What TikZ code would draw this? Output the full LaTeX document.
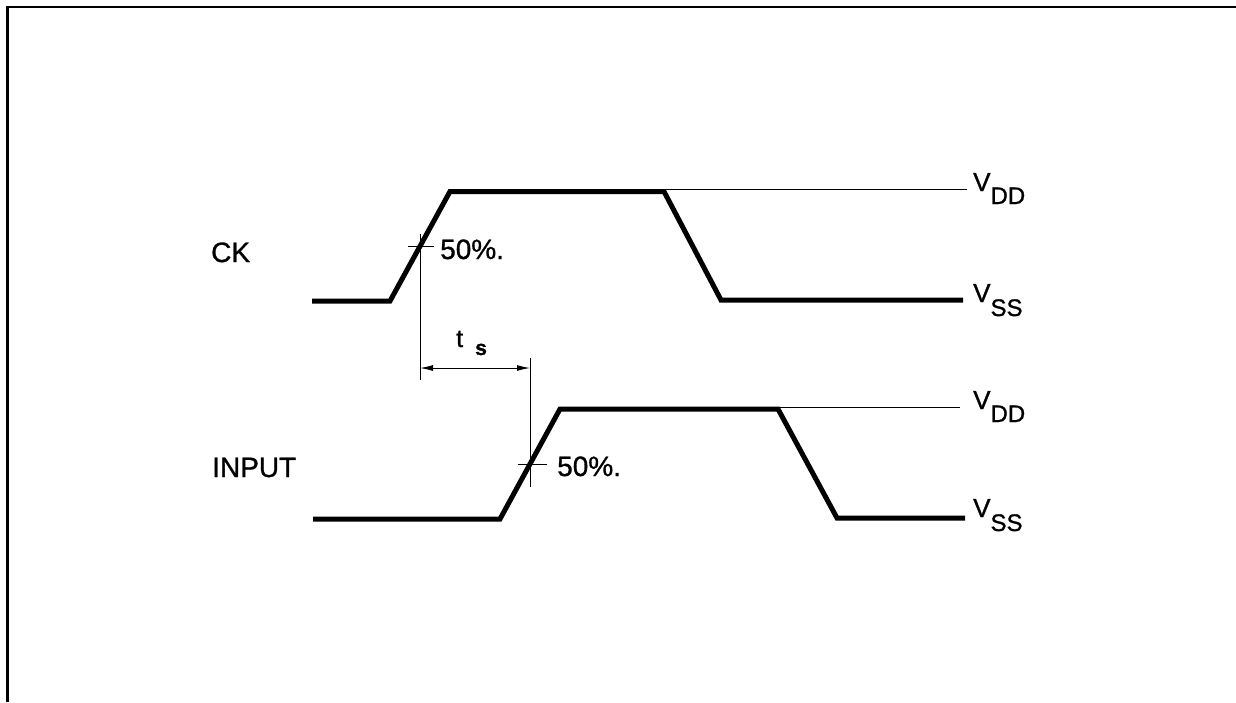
\documentclass[tikz,border=0pt]{standalone}
\usepackage{fontspec}
\setmainfont{Liberation Sans}[FakeBold=1]
\usetikzlibrary{arrows.meta,calc}
\begin{document}
\begin{tikzpicture}[x=1pt,y=-1pt,
  wave/.style={line width=5pt},
  thinline/.style={line width=1pt},
  lbl/.style={inner sep=0pt,anchor=base west,font=\fontsize{28}{30}\selectfont},
  lvl/.style={inner sep=0pt,anchor=base west,font=\fontsize{26}{28}\selectfont},
  dimline/.style={line width=1pt,{Latex[length=13pt,width=6pt]}-{Latex[length=13pt,width=6pt]}}
]
\useasboundingbox (0,0) rectangle (1236,702);
\fill[white] (0,0) rectangle (1236,702);
% frame
\coordinate (fbl) at (7.3,702);
\coordinate (ftl) at (7.3,6.7);
\coordinate (ftr) at (1236,6.7);
\draw[line width=2.4pt] (fbl) -- (ftl) -- (ftr);

% CK waveform
\coordinate (c0) at (312,301);
\coordinate (c1) at (390,301);
\coordinate (c2) at (450,191.5);
\coordinate (c3) at (664,191.5);
\coordinate (c4) at (721,300);
\coordinate (c5) at (963,300);
\draw[wave] (c0) -- (c1) -- (c2) -- (c3) -- (c4) -- (c5);
\coordinate (c3t) at (664,189.5);
\coordinate (cvdd) at (967,189.5);
\draw[thinline] (c3t) -- (cvdd);

% INPUT waveform
\coordinate (i0) at (313,519);
\coordinate (i1) at (500,519);
\coordinate (i2) at (560,409);
\coordinate (i3) at (778,409);
\coordinate (i4) at (837,518);
\coordinate (i5) at (965,518);
\draw[wave] (i0) -- (i1) -- (i2) -- (i3) -- (i4) -- (i5);
\coordinate (i3t) at (778,407.5);
\coordinate (ivdd) at (960,407.5);
\draw[thinline] (i3t) -- (ivdd);

% 50% points
\coordinate (m1) at ($(c1)!0.5!(c2)$);
\coordinate (m2) at ($(i1)!0.5!(i2)$);
\coordinate (m1a) at ($(m1)+(0,-12)$);
\coordinate (m1b) at ($(m1)+(0,134)$);
\coordinate (m1l) at ($(m1)+(-12,0)$);
\coordinate (m1r) at ($(m1)+(14,0)$);
\draw[thinline] (m1a) -- (m1b);
\draw[thinline] (m1l) -- (m1r);
\coordinate (m2a) at ($(m2)+(0,-106)$);
\coordinate (m2b) at ($(m2)+(0,23)$);
\coordinate (m2l) at ($(m2)+(-12,0)$);
\coordinate (m2r) at ($(m2)+(17,0)$);
\draw[thinline] (m2a) -- (m2b);
\draw[thinline] (m2l) -- (m2r);

% dimension arrow
\coordinate (d1) at (m1 |- 0,368);
\coordinate (d2) at (m2 |- 0,368);
\draw[dimline] (d1) -- (d2);
\node[anchor=base west,inner sep=0pt,font=\fontsize{25}{25}\selectfont] (tt) at (456,347) {t};
\node[anchor=base west,inner sep=0pt,font=\bfseries\fontsize{21}{21}\selectfont] (ss) at (475,355) {s};

% labels
\node[lbl] (ck) at (211,262) {CK};
\node[lbl] (inp) at (212,477) {INPUT};
\node[lbl] (p1) at (440,259) {50\%.};
\node[lbl] (p2) at (557,476) {50\%.};

\node[lvl] (vdd1) at (973,191) {V\raisebox{-13pt}{\fontsize{24}{24}\selectfont DD}};
\node[lvl] (vss1) at (973,302) {V\raisebox{-14pt}{\fontsize{24}{24}\selectfont SS}};
\node[lvl] (vdd2) at (973,409) {V\raisebox{-13pt}{\fontsize{24}{24}\selectfont DD}};
\node[lvl] (vss2) at (973,517) {V\raisebox{-14pt}{\fontsize{24}{24}\selectfont SS}};
\end{tikzpicture}
\end{document}
